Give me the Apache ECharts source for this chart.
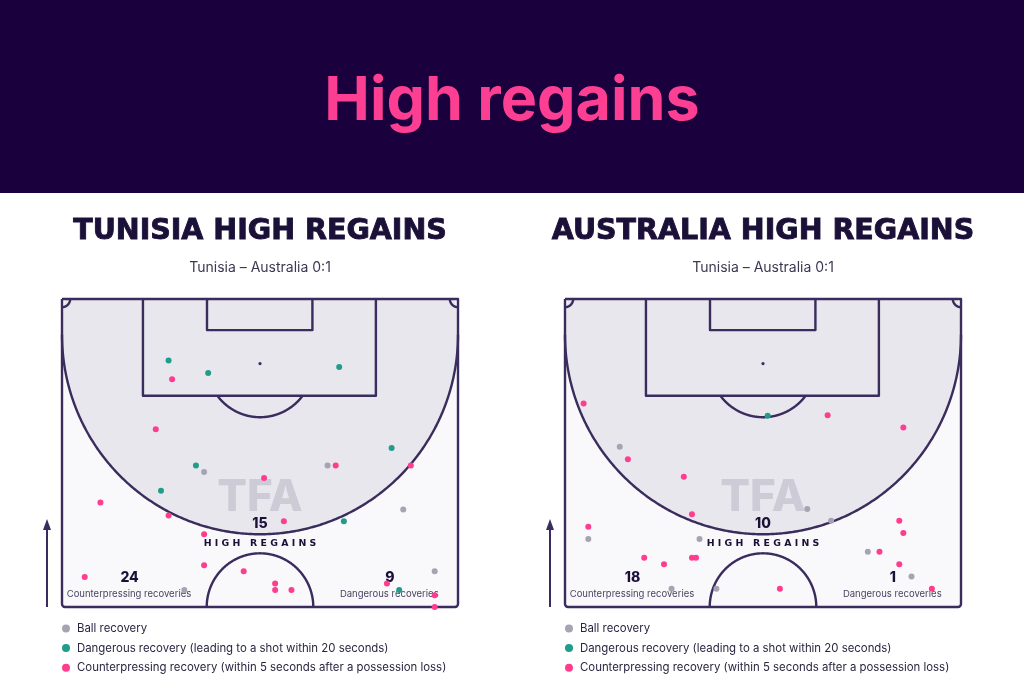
<!DOCTYPE html>
<html><head><meta charset="utf-8">
<script src="https://cdn.jsdelivr.net/npm/echarts@6/dist/echarts.min.js"></script>
<style>html,body{margin:0;padding:0;background:#fff}#c{width:1024px;height:683px}</style>
</head><body><div id="c"></div>
<script>
// ---- data ----
const mainTitle = 'High regains';
const teams = ['TUNISIA', 'AUSTRALIA'];
const matchLabel = 'Tunisia – Australia 0:1';
const seriesNames = ['Ball recovery', 'Dangerous recovery (leading to a shot within 20 seconds)', 'Counterpressing recovery (within 5 seconds after a possession loss)'];
const highRegains = [15, 10];
const counterpressingTotals = [24, 18];
const dangerousTotals = [9, 1];
// positions in metres: [across pitch 0-68, distance from opponent goal line 0-52.5]
const tunisiaBall = [[24.4,29.5],[21.0,49.6],[45.6,28.4],[58.6,35.9],[64.0,46.4]];
const tunisiaDangerous = [[18.3,10.5],[25.1,12.6],[47.6,11.6],[56.6,25.4],[23.0,28.4],[17.0,32.7],[48.4,37.9],[57.9,49.6]];
const tunisiaCounter = [[18.9,13.7],[16.1,22.2],[34.7,30.5],[6.6,34.7],[18.3,36.9],[24.4,40.1],[24.4,45.4],[31.2,46.4],[3.9,47.4],[47.0,28.4],[59.9,28.4],[38.1,37.9],[36.6,48.5],[36.6,49.6],[39.4,49.6],[55.8,48.5],[64.0,50.5],[64.0,52.5]];
const australiaBall = [[9.4,25.2],[4.0,40.9],[23.1,40.9],[18.3,49.4],[26.0,49.4],[41.6,35.8],[45.7,37.8],[52.0,43.1],[59.5,47.3]];
const australiaDangerous = [[34.8,19.9]];
const australiaCounter = [[3.2,17.8],[45.1,19.8],[58.1,21.9],[10.8,27.3],[20.4,30.3],[21.8,36.7],[4.0,38.8],[13.6,44.1],[21.8,44.1],[22.5,44.1],[17.0,45.2],[57.4,37.8],[58.1,39.9],[54.0,43.1],[57.4,45.2],[36.9,49.4],[63.0,49.4]];

// ---- styling ----
const W = 68, L = 52.5;
const LINE = '#3a2c5c';
const COLORS = ['#a6a4b3', '#1f9d8a', '#ff3d8f'];
const FONT = 'Inter, "Noto Sans", sans-serif';
const WIDE = '"DejaVu Sans", Inter, sans-serif';

function arc(api, cx, cy, r, a0, a1, keep) {
  const pts = [];
  for (let a = a0; a <= a1 + 1e-9; a += 0.5) {
    const t = a * Math.PI / 180;
    const x = cx + r * Math.cos(t), y = cy + r * Math.sin(t);
    if (!keep || keep(x, y)) pts.push(api.coord([x, y]));
  }
  return pts;
}

function pitchRender(idx) {
  return function (params, api) {
    const tl = api.coord([0, 0]), br = api.coord([W, L]);
    const ls = { stroke: LINE, lineWidth: 2.4, fill: null, lineJoin: 'round' };
    const ch = [];
    ch.push({ type: 'rect', shape: { x: tl[0], y: tl[1], width: br[0] - tl[0], height: br[1] - tl[1] }, style: { fill: '#f9f8fa' } });
    // high regain zone
    const zone = [];
    for (let a = 0; a < 360; a += 0.5) {
      const t = a * Math.PI / 180;
      let x = 34 + 34 * Math.cos(t), y = 6.1 + 34 * Math.sin(t);
      x = Math.max(0, Math.min(W, x)); y = Math.max(0, Math.min(L, y));
      zone.push(api.coord([x, y]));
    }
    ch.push({ type: 'polygon', shape: { points: zone }, style: { fill: '#e9e7ee' } });
    const c = api.coord([34, 33.9]);
    ch.push({ type: 'text', style: { text: 'TFA', x: c[0], y: c[1], align: 'center', verticalAlign: 'middle', font: '800 44px ' + FONT, fill: '#cdcbd5' } });
    ch.push({ type: 'polyline', shape: { points: arc(api, 34, 6.1, 34, 0, 180, (x, y) => x >= 0 && x <= W && y <= L) }, style: ls });
    // penalty box & goal area
    const pb = [[13.9,0],[13.9,16.5],[53.9,16.5],[53.9,0]].map(p => api.coord(p));
    ch.push({ type: 'polyline', shape: { points: pb }, style: ls });
    const ga = [[24.9,0],[24.9,5.3],[43.0,5.3],[43.0,0]].map(p => api.coord(p));
    ch.push({ type: 'polyline', shape: { points: ga }, style: ls });
    const ps = api.coord([34, 11]);
    ch.push({ type: 'circle', shape: { cx: ps[0], cy: ps[1], r: 1.6 }, style: { fill: LINE } });
    ch.push({ type: 'polyline', shape: { points: arc(api, 34, 11, 9.15, 0, 180, (x, y) => y >= 16.5) }, style: ls });
    ch.push({ type: 'polyline', shape: { points: arc(api, 34, L, 9.15, 180, 360) }, style: ls });
    ch.push({ type: 'polyline', shape: { points: arc(api, 0, 0, 1.4, 0, 90) }, style: ls });
    ch.push({ type: 'polyline', shape: { points: arc(api, W, 0, 1.4, 90, 180) }, style: ls });
    ch.push({ type: 'rect', shape: { x: tl[0], y: tl[1], width: br[0] - tl[0], height: br[1] - tl[1], r: [0, 0, 3, 3] }, style: ls });
    // labels
    const t1 = api.coord([34, 38.4]);
    ch.push({ type: 'text', style: { text: String(highRegains[idx]), x: t1[0], y: t1[1], align: 'center', verticalAlign: 'middle', font: '800 14px ' + FONT, fill: '#1b1038' } });
    const t2 = api.coord([34, 41.7]);
    ch.push({ type: 'text', style: { text: 'H I G H   R E G A I N S', x: t2[0], y: t2[1], align: 'center', verticalAlign: 'middle', font: 'bold 9.4px ' + WIDE, fill: '#1b1038' } });
    const t3 = api.coord([11.6, 47.6]);
    ch.push({ type: 'text', style: { text: String(counterpressingTotals[idx]), x: t3[0], y: t3[1], align: 'center', verticalAlign: 'middle', font: '800 14px ' + FONT, fill: '#1b1038' } });
    const t4 = api.coord([11.5, 50.3]);
    ch.push({ type: 'text', style: { text: 'Counterpressing recoveries', x: t4[0], y: t4[1], align: 'center', verticalAlign: 'middle', font: '400 9.5px ' + FONT, fill: '#4a4560' } });
    const t5 = api.coord([56.3, 47.6]);
    ch.push({ type: 'text', style: { text: String(dangerousTotals[idx]), x: t5[0], y: t5[1], align: 'center', verticalAlign: 'middle', font: '800 14px ' + FONT, fill: '#1b1038' } });
    const t6 = api.coord([56.2, 50.3]);
    ch.push({ type: 'text', style: { text: 'Dangerous recoveries', x: t6[0], y: t6[1], align: 'center', verticalAlign: 'middle', font: '400 9.5px ' + FONT, fill: '#4a4560' } });
    return { type: 'group', children: ch };
  };
}

const lefts = [62, 565];
const centres = [260, 763];
const grids = lefts.map(l => ({ left: l, top: 299, width: 396, height: 308 }));
const xAxes = [0, 1].map(i => ({ gridIndex: i, type: 'value', min: 0, max: W, show: false }));
const yAxes = [0, 1].map(i => ({ gridIndex: i, type: 'value', min: 0, max: L, inverse: true, show: false }));
const pointSets = [[tunisiaBall, tunisiaDangerous, tunisiaCounter], [australiaBall, australiaDangerous, australiaCounter]];

const series = [];
[0, 1].forEach(i => {
  series.push({ type: 'custom', xAxisIndex: i, yAxisIndex: i, data: [[0, 0]], renderItem: pitchRender(i), silent: true, z: 1 });
  pointSets[i].forEach((d, k) => {
    series.push({ type: 'scatter', name: seriesNames[k], xAxisIndex: i, yAxisIndex: i, data: d, symbolSize: 6, clip: false, itemStyle: { color: COLORS[k], opacity: 1 }, z: 3 + k });
  });
});

const graphic = [
  { type: 'rect', shape: { x: 0, y: 0, width: 1024, height: 193 }, style: { fill: '#1a003d' }, z: -10 },
  { type: 'text', x: 512, y: 102, style: { text: mainTitle, align: 'center', verticalAlign: 'middle', font: '700 61px ' + FONT, fill: '#fd3f93' } }
];
[0, 1].forEach(i => {
  graphic.push({ type: 'text', x: centres[i], y: 232, style: { text: teams[i] + ' HIGH REGAINS', align: 'center', verticalAlign: 'middle', font: 'bold 28.5px ' + WIDE, fill: '#1b1038', stroke: '#1b1038', lineWidth: 0.9 } });
  graphic.push({ type: 'text', x: centres[i], y: 268, style: { text: matchLabel, align: 'center', verticalAlign: 'middle', font: '400 14px ' + FONT, fill: '#3d3852' } });
  const ax = lefts[i] - 15;
  graphic.push({ type: 'line', shape: { x1: ax, y1: 607, x2: ax, y2: 528 }, style: { stroke: LINE, lineWidth: 2 } });
  graphic.push({ type: 'polygon', shape: { points: [[ax - 4, 530], [ax + 4, 530], [ax, 519]] }, style: { fill: LINE } });
});

const legends = lefts.map(l => ({
  orient: 'vertical', left: l, top: 623, padding: 0, itemWidth: 8, itemHeight: 8, itemGap: 8.6, icon: 'circle',
  selectedMode: false, data: seriesNames,
  textStyle: { fontSize: 11.4, color: '#2b2640', fontFamily: FONT, padding: [0, 0, 0, 2] }
}));

const chart = echarts.init(document.getElementById('c'), null, { renderer: 'canvas' });
chart.setOption({
  backgroundColor: '#ffffff',
  animation: false,
  grid: grids, xAxis: xAxes, yAxis: yAxes,
  legend: legends,
  graphic: graphic,
  series: series
});
</script>
</body></html>
